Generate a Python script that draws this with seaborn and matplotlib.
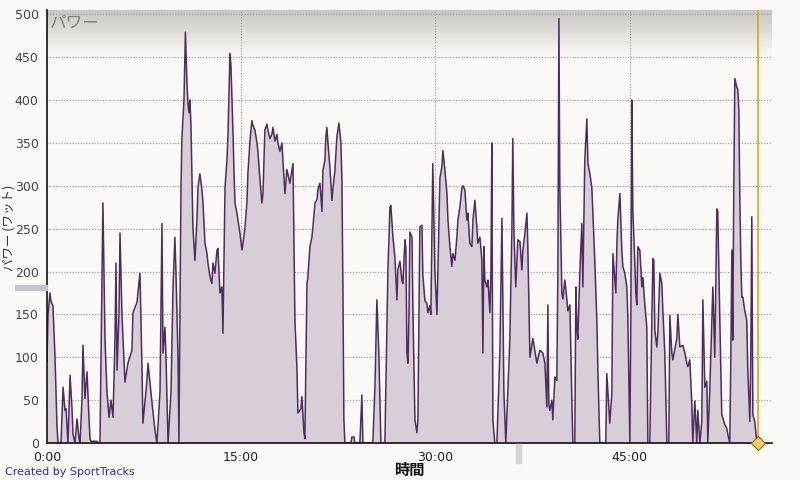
import numpy as np
import matplotlib
matplotlib.use("Agg")
import matplotlib.pyplot as plt
import seaborn as sns
from matplotlib.colors import LinearSegmentedColormap
from matplotlib.ticker import FuncFormatter

# ============================================================
# Data (elapsed minutes, watts)
# ============================================================

time_min = [
    0.00, 0.08, 0.23, 0.31, 0.46, 0.62, 0.77, 0.85, 1.08, 1.24, 1.39, 1.47, 1.62, 1.78, 1.93, 2.01,
    2.16, 2.32, 2.47, 2.55, 2.70, 2.78, 2.93, 3.09, 3.24, 3.32, 3.40, 3.86, 3.94, 4.09,
    4.21, 4.32, 4.48, 4.63, 4.79, 4.94, 5.10, 5.25, 5.33, 5.41, 5.56, 5.64, 5.79, 6.02, 6.25, 6.56,
    6.64, 6.95, 7.18, 7.34, 7.41, 7.72, 7.80, 8.11, 8.34, 8.49, 8.73, 8.88, 8.96, 9.11, 9.19, 9.35,
    9.58, 9.73, 9.88, 9.96, 10.12, 10.19,
    10.27, 10.35, 10.42, 10.58, 10.69, 10.81, 10.89, 10.97, 11.04, 11.12, 11.27, 11.43, 11.58, 11.66,
    11.81, 11.97, 12.05, 12.20, 12.36, 12.43, 12.59, 12.74, 12.82, 12.97, 13.13, 13.20, 13.36, 13.51,
    13.59, 13.75, 13.90, 13.98, 14.13, 14.21, 14.29, 14.36, 14.44, 14.52, 14.67, 14.75, 14.90, 15.06,
    15.14, 15.29, 15.44, 15.52, 15.68, 15.83, 15.91, 16.06, 16.22, 16.29, 16.45, 16.60, 16.68, 16.83,
    16.99, 17.06, 17.22, 17.37, 17.45, 17.61, 17.76, 17.84, 17.99, 18.15, 18.22, 18.38, 18.53, 18.76,
    19.00, 19.15, 19.31, 19.38, 19.61, 19.69, 19.85, 19.92,
    20.08, 20.15, 20.31, 20.46, 20.54, 20.70, 20.85, 20.93, 21.08, 21.24, 21.31, 21.47, 21.54, 21.62,
    21.70, 21.85, 22.01, 22.08, 22.24, 22.39, 22.55, 22.70, 22.78, 22.86, 22.93, 23.01, 23.48, 23.55,
    23.71, 23.78, 24.17, 24.25, 24.32, 24.40, 25.17, 25.33, 25.48, 25.64, 25.79, 26.10,
    26.33, 26.49, 26.56, 26.72, 26.87, 27.03, 27.10, 27.26, 27.41, 27.49, 27.65, 27.72, 27.80, 27.88,
    27.96, 28.03, 28.19, 28.27, 28.42, 28.57, 28.65, 28.80, 28.96, 29.03, 29.19, 29.34, 29.42, 29.57,
    29.65, 29.80, 29.96, 30.12, 30.19, 30.35, 30.50, 30.58, 30.73, 30.89, 30.97, 31.12, 31.27, 31.35,
    31.51, 31.66, 31.74, 31.89, 32.05, 32.13, 32.28, 32.43, 32.51, 32.66, 32.82, 32.90, 33.05, 33.20,
    33.28, 33.44, 33.59, 33.67, 33.75, 33.82, 33.98, 34.06, 34.21, 34.29, 34.36, 34.44, 34.59, 34.75,
    34.98, 35.14, 35.29, 35.44, 35.75, 35.91, 35.98, 36.06, 36.21, 36.37, 36.53, 36.68, 36.76, 36.91,
    37.07, 37.14, 37.30, 37.53, 37.84, 38.07, 38.30, 38.46, 38.61, 38.69, 38.76, 38.84, 39.00, 39.07,
    39.23, 39.38, 39.46, 39.54, 39.61, 39.77, 39.85, 40.00, 40.15, 40.23, 40.39, 40.54, 40.62, 40.77,
    40.85, 40.93, 41.00, 41.16, 41.31, 41.39, 41.54, 41.70, 41.78, 41.93, 42.08, 42.16, 42.31, 42.47,
    42.55, 42.70, 43.16, 43.24, 43.47, 43.63, 43.71, 43.86, 43.94, 44.02, 44.09, 44.25, 44.40, 44.48,
    44.63, 44.79, 44.87, 45.02, 45.10, 45.17, 45.25, 45.41, 45.48, 45.56, 45.64, 45.79, 45.95, 46.03,
    46.18, 46.33, 46.41, 46.56, 46.80, 46.87, 46.95, 47.10, 47.18, 47.34, 47.49, 47.57, 47.72, 47.88,
    48.03, 48.11, 48.26, 48.34, 48.65, 48.73, 48.88, 49.11, 49.27, 49.42, 49.50, 49.65, 49.81, 49.88,
    50.04, 50.19, 50.27, 50.43, 50.58, 50.66, 50.81, 50.97, 51.04, 51.20, 51.43, 51.58, 51.74, 51.81,
    51.97, 52.12, 52.20, 52.36, 52.51, 52.59, 52.74, 52.82, 52.90, 52.97, 53.05, 53.13, 53.28, 53.36,
    53.44, 53.51, 53.59, 53.67, 53.75, 53.90, 54.05, 54.13, 54.29, 54.36, 54.44, 54.52, 54.67, 54.83,
]

power_w = [
    95, 150, 175, 165, 160, 100, 20, 0, 0, 65, 38, 40, 0, 79, 40, 10,
    0, 28, 5, 0, 50, 114, 52, 83, 30, 5, 2, 2, 0, 0,
    150, 280, 120, 60, 30, 50, 30, 120, 210, 85, 150, 245, 150, 71, 93, 108,
    152, 164, 198, 85, 23, 73, 93, 47, 15, 0, 60, 256, 105, 135, 100, 0,
    60, 180, 240, 200, 100, 0,
    150, 300, 355, 400, 479, 420, 395, 385, 400, 370, 252, 213, 260, 298,
    314, 295, 280, 233, 221, 210, 194, 186, 210, 198, 225, 227, 175, 182,
    128, 298, 330, 360, 454, 440, 400, 365, 318, 280, 268, 260, 245, 225,
    233, 251, 280, 315, 353, 376, 370, 365, 350, 340, 307, 280, 290, 365,
    372, 365, 355, 360, 368, 352, 360, 350, 340, 350, 330, 291, 319, 303,
    326, 143, 85, 35, 40, 54, 12, 5,
    186, 193, 229, 240, 252, 280, 284, 296, 303, 270, 318, 330, 357, 368,
    350, 322, 283, 296, 318, 357, 373, 350, 306, 175, 28, 0, 0, 7,
    7, 0, 0, 30, 56, 0, 0, 65, 167, 100, 0, 0,
    200, 275, 277, 240, 217, 167, 202, 212, 190, 186, 237, 227, 105, 93,
    150, 246, 240, 150, 27, 12, 27, 252, 254, 196, 166, 163, 152, 160,
    150, 326, 200, 150, 200, 309, 322, 341, 319, 291, 260, 229, 206, 221,
    213, 240, 260, 275, 298, 300, 295, 260, 268, 233, 229, 260, 283, 252,
    233, 240, 213, 105, 229, 190, 182, 190, 152, 200, 350, 27, 0, 0,
    105, 262, 60, 0, 120, 250, 355, 250, 182, 237, 235, 202, 225, 244,
    268, 229, 100, 122, 93, 108, 105, 93, 42, 161, 45, 38, 50, 27,
    77, 73, 200, 495, 300, 175, 168, 190, 168, 154, 161, 50, 0, 0,
    182, 135, 121, 200, 256, 182, 330, 378, 326, 314, 298, 270, 213, 143,
    85, 0, 0, 81, 23, 58, 221, 190, 175, 233, 260, 291, 225, 206,
    198, 182, 143, 0, 150, 400, 272, 208, 175, 161, 229, 225, 182, 193,
    161, 135, 0, 0, 215, 213, 132, 112, 127, 198, 186, 154, 105, 0,
    0, 149, 105, 97, 122, 150, 112, 114, 105, 93, 89, 97, 45, 0,
    49, 0, 38, 0, 25, 167, 65, 72, 0, 65, 182, 100, 273, 270,
    143, 33, 29, 21, 17, 10, 0, 100, 225, 120, 300, 425, 415, 412,
    388, 291, 213, 170, 170, 154, 143, 85, 25, 100, 264, 33, 25, 0,
]

marker_time = 54.9
x_ticks = [0, 15, 30, 45]
y_ticks = list(range(0, 501, 50))

# ============================================================
# Style
# ============================================================

BG = "#fbf9f5"
FILL = "#d8ced8"
LINE = "#4d2d5e"
ORANGE = "#d9a520"
CJK = ["Noto Sans CJK JP", "DejaVu Sans"]

sns.set_style("white")
plt.rcParams["font.family"] = ["DejaVu Sans", "Noto Sans CJK JP"]

fig = plt.figure(figsize=(8, 4.8), dpi=100, facecolor=BG)
ax = fig.add_axes([47 / 800, 1 - 443 / 480, 725 / 800, 433 / 480])
ax.set_facecolor(BG)

X_MAX = 56.0
Y_MAX = 505

# top gradient band
grad = np.linspace(0, 1, 64).reshape(-1, 1)
cmap = LinearSegmentedColormap.from_list("band", [BG, "#c9c5c0"])
ax.imshow(grad, extent=(0, X_MAX, 450, Y_MAX), origin="lower", aspect="auto",
          cmap=cmap, zorder=0, interpolation="bilinear")

# grid
for yt in y_ticks[1:]:
    ax.axhline(yt, color="#9a9a9a", linestyle=(0, (1, 1.5)), linewidth=0.8, zorder=1)
for xt in x_ticks[1:]:
    ax.axvline(xt, color="#9a9a9a", linestyle=(0, (1, 1.5)), linewidth=0.8, zorder=1)

# area + line
ax.fill_between(time_min, power_w, 0, color=FILL, zorder=2, linewidth=0)
sns.lineplot(x=time_min, y=power_w, ax=ax, color=LINE, linewidth=1.1,
             estimator=None, sort=False, zorder=3)

# current position marker
ax.axvline(marker_time, color=ORANGE, linewidth=1.2, zorder=4)
ax.plot([marker_time], [0], marker="D", markersize=7, color="#f0d060",
        markeredgecolor="#8a6a10", markeredgewidth=0.8, zorder=6, clip_on=False)

ax.set_xlim(0, X_MAX)
ax.set_ylim(0, Y_MAX)
ax.set_xticks(x_ticks)
ax.set_yticks(y_ticks)
ax.xaxis.set_major_formatter(FuncFormatter(lambda v, p: f"{int(v)}:00"))
ax.tick_params(axis="both", which="both", direction="out", length=4, width=1,
               colors="#222222", labelsize=9, pad=2)
ax.tick_params(axis="y", labelcolor="#444444")
ax.tick_params(axis="x", pad=2)

for side in ["top", "right"]:
    ax.spines[side].set_visible(False)
for side in ["left", "bottom"]:
    ax.spines[side].set_color("#111111")
    ax.spines[side].set_linewidth(1.2)
    ax.spines[side].set_zorder(5)

ax.set_xlabel("")
ax.set_ylabel("")
ax.text(0.004, 0.988, "パワー", transform=ax.transAxes, ha="left", va="top",
        fontsize=12, color="#808080", style="italic", family=CJK, zorder=7)

fig.text(409 / 800, 1 - 470 / 480, "時間", ha="center", va="center",
         fontsize=11, fontweight="bold", color="#111111", family=CJK)
fig.text(9 / 800, 1 - 228 / 480, "パワー (ワット)", rotation=90, ha="center", va="center",
         fontsize=9, color="#333333", family=CJK)
fig.text(5 / 800, 1 - 472 / 480, "Created by SportTracks", ha="left", va="center",
         fontsize=8, color="#2a2ad0")

# splitter handles of the original UI
fig.patches.append(plt.Rectangle((15 / 800, 1 - 290 / 480), 32 / 800, 5 / 480,
                                 transform=fig.transFigure, color="#c8c0c8", zorder=0))
fig.patches.append(plt.Rectangle((516 / 800, 1 - 463 / 480), 5 / 800, 19 / 480,
                                 transform=fig.transFigure, color="#d4d4d4", zorder=0))

fig.savefig("out.png", dpi=100, facecolor=BG)
